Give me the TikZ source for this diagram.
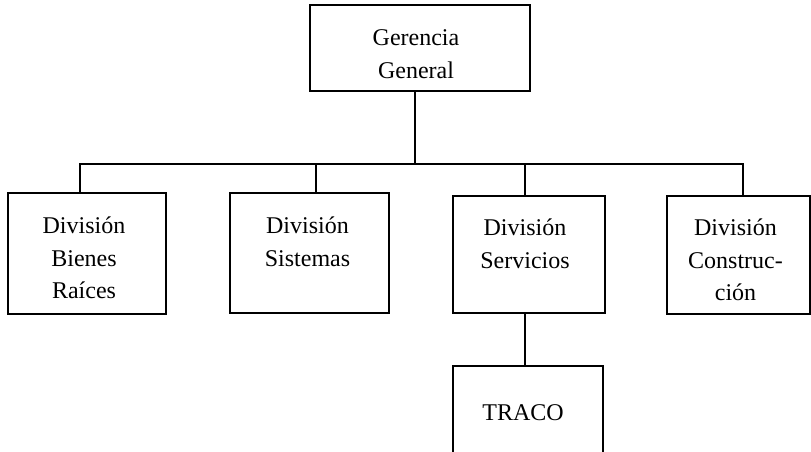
\documentclass[tikz,border=0pt]{standalone}
\usepackage{fontspec}
\setmainfont{Liberation Serif}
\begin{document}
\begin{tikzpicture}[x=1pt,y=-1pt,
  orgbox/.style={draw=black, line width=2.5pt, inner sep=0pt, rectangle},
  txt/.style={anchor=base, inner sep=0pt, font=\fontsize{24}{32.5}\selectfont},
  conn/.style={draw=black, line width=1.2pt}]
\useasboundingbox (0,0) rectangle (811,451);
\clip (0,0) rectangle (811,451);
% boxes
\node[orgbox, minimum width=220pt, minimum height=86pt] (G) at (420,48) {};
\node[orgbox, minimum width=158pt, minimum height=121pt] (b1) at (87,253.5) {};
\node[orgbox, minimum width=159pt, minimum height=120pt] (b2) at (309.5,253) {};
\node[orgbox, minimum width=152pt, minimum height=117pt] (b3) at (529,254.5) {};
\node[orgbox, minimum width=143pt, minimum height=118pt] (b4) at (738.5,255) {};
\node[orgbox, minimum width=150pt, minimum height=110pt] (T) at (528,421) {};
% texts
\node[txt] (tG) at ([xshift=-4pt,yshift=-42pt]G.north) {\begin{tabular}[t]{@{}c@{}}Gerencia\\General\end{tabular}};
\node[txt] (t1) at ([xshift=-3pt,yshift=-42pt]b1.north) {\begin{tabular}[t]{@{}c@{}}División\\Bienes\\Raíces\end{tabular}};
\node[txt] (t2) at ([xshift=-2pt,yshift=-42pt]b2.north) {\begin{tabular}[t]{@{}c@{}}División\\Sistemas\end{tabular}};
\node[txt] (t3) at ([xshift=-4pt,yshift=-41pt]b3.north) {\begin{tabular}[t]{@{}c@{}}División\\Servicios\end{tabular}};
\node[txt] (t4) at ([xshift=-3pt,yshift=-41pt]b4.north) {\begin{tabular}[t]{@{}c@{}}División\\Construc-\\ción\end{tabular}};
\node[txt] (tT) at ([xshift=-5pt,yshift=-56pt]T.north) {TRACO};
% connector points
\coordinate (bus) at (415,164);
\coordinate (p1) at ([xshift=-7pt]b1.north);
\coordinate (p2) at ([xshift=6.5pt]b2.north);
\coordinate (p3) at ([xshift=-4pt]b3.north);
\coordinate (p4) at ([xshift=4.5pt]b4.north);
\coordinate (pG) at ([xshift=-5pt]G.south);
\coordinate (p3s) at ([xshift=-4pt]b3.south);
\draw[conn] (pG) -- (pG |- bus);
\draw[conn] (p1) -- (p1 |- bus) -- (p4 |- bus) -- (p4);
\draw[conn] (p2 |- bus) -- (p2);
\draw[conn] (p3 |- bus) -- (p3);
\draw[conn] (p3s) -- (p3s |- T.north);
\end{tikzpicture}
\end{document}
